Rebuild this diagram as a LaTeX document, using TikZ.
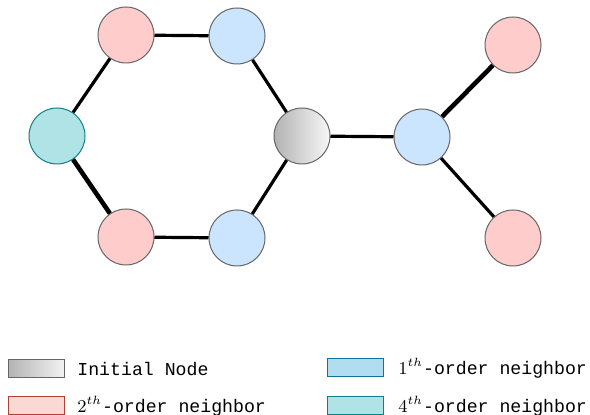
\documentclass[tikz,border=0pt]{standalone}
\usepackage{fontspec}
\setmonofont{Liberation Mono}
\usepackage{tikz}
\usetikzlibrary{calc}
\usepackage{xcolor}

\definecolor{pinkfill}{HTML}{FFCCCC}
\definecolor{bluefill}{HTML}{CCE5FF}
\definecolor{tealfill}{HTML}{B0E3E6}
\definecolor{tealline}{HTML}{0E8088}
\definecolor{nodeline}{HTML}{666666}
\definecolor{legpink}{HTML}{FAD9D5}
\definecolor{legpinkline}{HTML}{AE4132}
\definecolor{legblue}{HTML}{B1DDF0}
\definecolor{legblueline}{HTML}{10739E}

\begin{document}
\begin{tikzpicture}[
    x=0.5pt, y=-0.5pt,
    vertex/.style={draw=nodeline, circle, minimum size=28pt, inner sep=0pt, line width=0.5pt},
    initial/.style={vertex, left color=gray!60, right color=gray!6},
    first/.style={vertex, fill=bluefill},
    second/.style={vertex, fill=pinkfill},
    fourth/.style={vertex, fill=tealfill, draw=tealline},
    link/.style={line width=1.6pt},
    heavylink/.style={line width=2.3pt},
    legbox/.style={draw, rectangle, minimum width=28pt, minimum height=9pt, inner sep=0pt, line width=0.5pt},
    legtext/.style={anchor=west, font=\fontsize{9.1}{11}\selectfont\ttfamily, inner sep=0pt},
]
\useasboundingbox (0,0) rectangle (590,415);

% --- nodes ---
\node[initial] (init) at (302,136) {};
\node[first] (firsttop) at (237,36) {};
\node[first] (firstbottom) at (237,238) {};
\node[first] (firstright) at (422,137) {};
\node[second] (secondtop) at (126,35) {};
\node[second] (secondbottom) at (126,237) {};
\node[second] (secondupper) at (513,45) {};
\node[second] (secondlower) at (513,238) {};
\node[fourth] (fourthleft) at (57,136) {};

% --- edges ---
\draw[link] (secondtop) -- (firsttop);
\draw[link] (firsttop) -- (init);
\draw[link] (init) -- (firstbottom);
\draw[link] (firstbottom) -- (secondbottom);
\draw[heavylink] (secondbottom) -- (fourthleft);
\draw[link] (fourthleft) -- (secondtop);
\draw[link] (init) -- (firstright);
\draw[heavylink] (firstright) -- (secondupper);
\draw[link] (firstright) -- (secondlower);

% --- legend ---
\node[legbox, draw=nodeline, left color=gray!60, right color=gray!10] (leginit) at (36,369) {};
\node[legtext] (leginittext) at (77,369) {Initial Node};
\node[legbox, draw=legpinkline, fill=legpink] (legsecond) at (36,406) {};
\node[legtext] (legsecondtext) at (77,406) {$2^{th}$-order neighbor};
\node[legbox, draw=legblueline, fill=legblue] (legfirst) at (355,368) {};
\node[legtext] (legfirsttext) at (398,368) {$1^{th}$-order neighbor};
\node[legbox, draw=tealline, fill=tealfill] (legfourth) at (355,406) {};
\node[legtext] (legfourthtext) at (398,406) {$4^{th}$-order neighbor};
\end{tikzpicture}
\end{document}
